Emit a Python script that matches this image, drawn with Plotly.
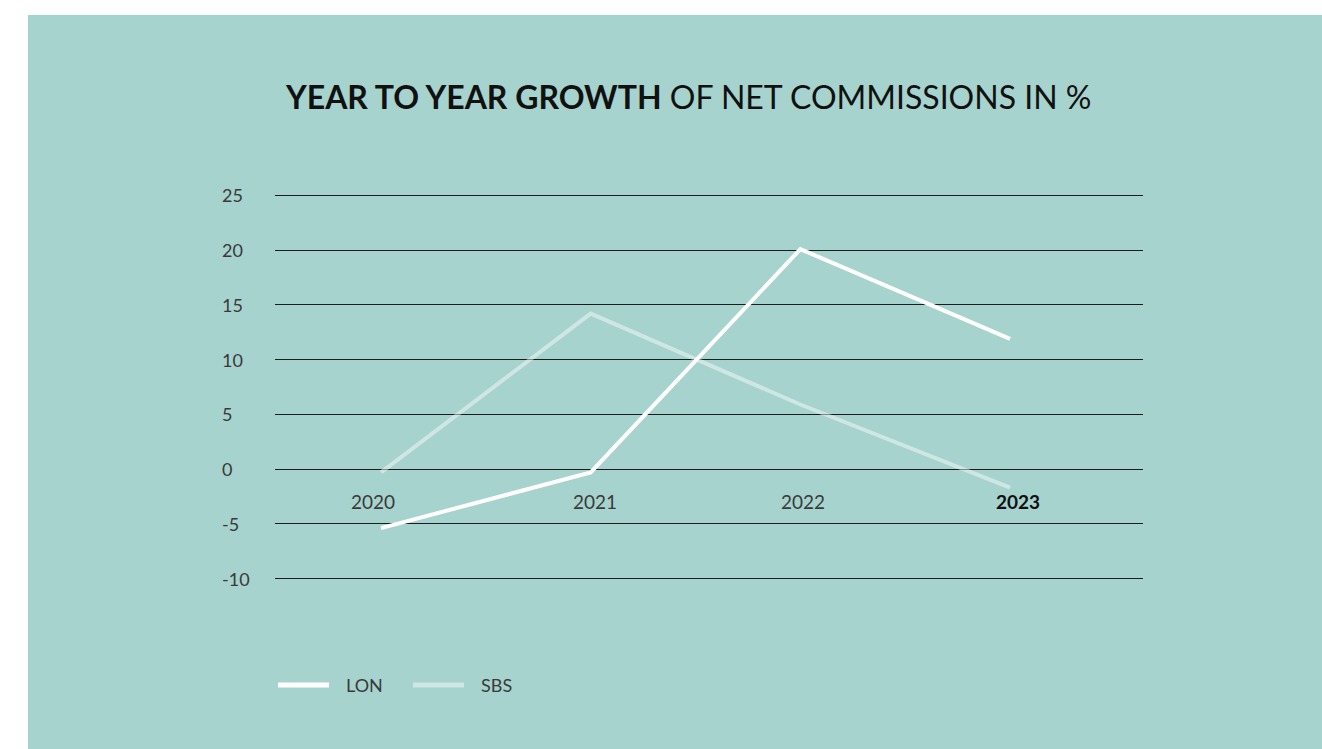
import plotly.graph_objects as go

# Year-to-year growth of net commissions (%)
years = ["2020", "2021", "2022", "2023"]
lon_growth = [-5.4, -0.3, 20.1, 11.9]
sbs_growth = [-0.3, 14.2, 5.9, -1.7]
y_ticks = [25, 20, 15, 10, 5, 0, -5, -10]

W, H = 1322, 749
L, R, T, B = 275, 179, 190, 165
TEAL = "#a6d3ce"
TEXT = "#3a3a3a"
FONT = "Lato"
LON_COLOR = "#ffffff"
SBS_COLOR = "rgba(255,255,255,0.45)"

fig = go.Figure()
fig.add_trace(go.Scatter(
    x=list(range(len(years))), y=sbs_growth, name="SBS", mode="lines",
    line=dict(color=SBS_COLOR, width=4), showlegend=False,
))
fig.add_trace(go.Scatter(
    x=list(range(len(years))), y=lon_growth, name="LON", mode="lines",
    line=dict(color=LON_COLOR, width=4), showlegend=False,
))

pw, ph = W - L - R, H - T - B


def px_to_paper_x(px):
    return (px - L) / pw


def px_to_paper_y(py):
    return (H - B - py) / ph


# white margin strips around the teal panel
fig.add_shape(type="rect", xref="paper", yref="paper", layer="below",
              x0=px_to_paper_x(0), x1=px_to_paper_x(W),
              y0=px_to_paper_y(15), y1=px_to_paper_y(0),
              fillcolor="#ffffff", line_width=0)
fig.add_shape(type="rect", xref="paper", yref="paper", layer="below",
              x0=px_to_paper_x(0), x1=px_to_paper_x(28),
              y0=px_to_paper_y(H), y1=px_to_paper_y(0),
              fillcolor="#ffffff", line_width=0)

annotations = []
# y-axis labels, left aligned
for v in y_ticks:
    annotations.append(dict(
        x=px_to_paper_x(220), xref="paper", y=v, yref="y",
        text=str(v), showarrow=False, xanchor="left", yanchor="middle",
        font=dict(family=FONT, size=18, color=TEXT),
    ))
# year labels sitting just under the zero line (slightly offset from the points)
label_shift = [-8, 4, 3, 8]
for i, yr in enumerate(years):
    last = i == len(years) - 1
    annotations.append(dict(
        x=i, xref="x", y=-3.0, yref="y", xshift=label_shift[i],
        text=f"<b>{yr}</b>" if last else yr, showarrow=False,
        xanchor="center", yanchor="middle",
        font=dict(family=FONT, size=19, color="#111111" if last else TEXT),
    ))
# title
annotations.append(dict(
    x=px_to_paper_x(688), xref="paper", y=px_to_paper_y(97), yref="paper",
    text="<b>YEAR TO YEAR GROWTH</b> OF NET COMMISSIONS IN %",
    showarrow=False, xanchor="center", yanchor="middle",
    font=dict(family=FONT, size=32, color="#111111"),
))

# legend: line sample followed by series name
legend_items = [("LON", LON_COLOR, 278), ("SBS", SBS_COLOR, 413)]
for name, color, x0 in legend_items:
    fig.add_shape(type="line", xref="paper", yref="paper",
                  x0=px_to_paper_x(x0), x1=px_to_paper_x(x0 + 51),
                  y0=px_to_paper_y(685), y1=px_to_paper_y(685),
                  line=dict(color=color, width=5))
    annotations.append(dict(
        x=px_to_paper_x(x0 + 66), xref="paper", y=px_to_paper_y(685), yref="paper",
        text=name, showarrow=False, xanchor="left", yanchor="middle",
        font=dict(family=FONT, size=18, color=TEXT),
    ))

fig.update_layout(
    width=W, height=H,
    margin=dict(l=L, r=R, t=T, b=B, pad=0),
    paper_bgcolor=TEAL, plot_bgcolor="rgba(0,0,0,0)",
    showlegend=False,
    xaxis=dict(
        range=[-0.5055, 3.634],
        showgrid=False, showticklabels=False, zeroline=False,
        showline=False, ticks="",
    ),
    yaxis=dict(
        range=[-10.5, 25.5], tickvals=y_ticks, showticklabels=False,
        showgrid=True, gridcolor="#1c1c1c", gridwidth=1.3,
        zeroline=True, zerolinecolor="#1c1c1c", zerolinewidth=1.3,
        showline=False, ticks="",
    ),
    annotations=annotations,
)

fig.write_html("out.html")
